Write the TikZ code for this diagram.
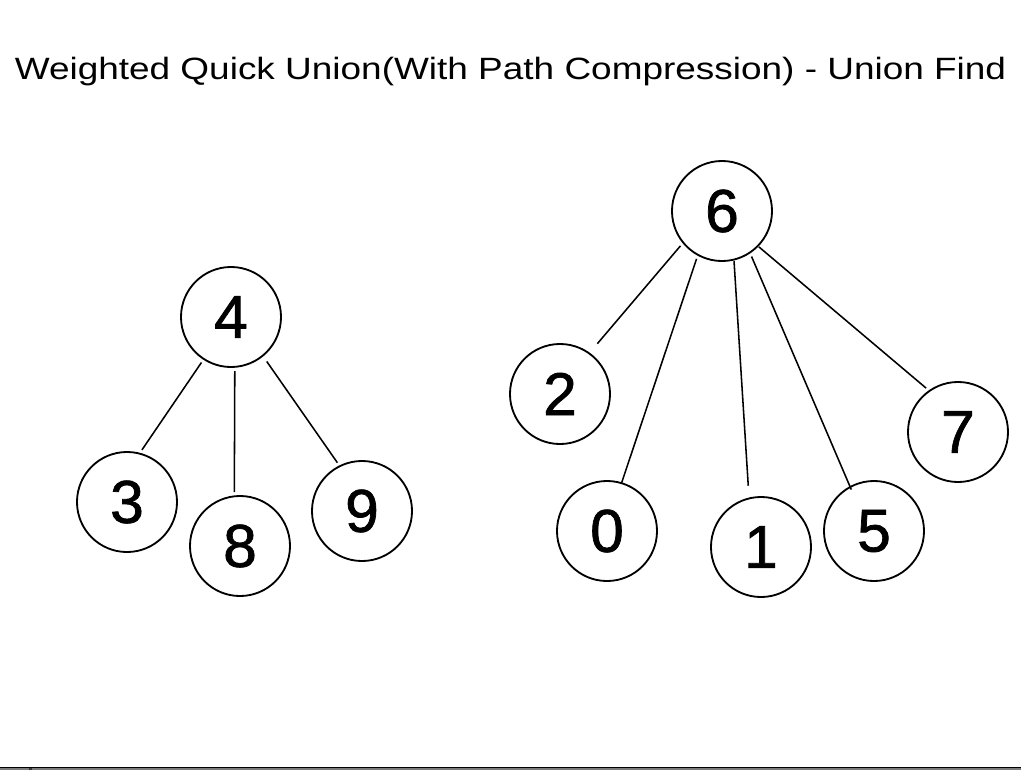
\documentclass[tikz,border=0pt]{standalone}
\usepackage{fontspec}
\setmainfont{Liberation Sans}
\newfontface\ufdigits[FakeBold=1.2]{Liberation Sans}
\usepackage{tikz}
\usetikzlibrary{positioning}
\definecolor{ufstrip}{HTML}{7C7C7C}
\definecolor{uftick}{HTML}{3A3A3A}

\begin{document}
\begin{tikzpicture}[x=0.025cm, y=-0.025cm,
  ufnode/.style={draw=black, circle, line width=1.3pt, minimum size=2.5cm, inner sep=0pt, outer sep=3pt, font=\ufdigits\fontsize{43}{43}\selectfont},
  uflink/.style={black, line width=1.1pt},
  uftitle/.style={font=\fontsize{21.9}{26}\selectfont, anchor=base, inner sep=0pt},
]
\useasboundingbox (0,0) rectangle (1021,770);
\node[uftitle] (title) at (510.5,79) {\scalebox{1.2}[1]{Weighted Quick Union(With Path Compression) - Union Find}};
% tree rooted at 4
\node[ufnode] (n4) at (231,317) {4};
\node[ufnode] (n3) at (127,502) {3};
\node[ufnode] (n8) at (240,546) {8};
\node[ufnode] (n9) at (362,511) {9};
\draw[uflink] (n4.237) -- (n3.74);
\draw[uflink] (n4.274) -- (n8.96);
\draw[uflink, shorten <=2pt] (n4.309) -- (n9.117);
% tree rooted at 6
\node[ufnode] (n6) at (722,211) {6};
\node[ufnode] (n2) at (560,394) {2};
\node[ufnode] (n0) at (607,531) {0};
\node[ufnode] (n1) at (761,547) {1};
\node[ufnode] (n5) at (874,531) {5};
\node[ufnode] (n7) at (958,432) {7};
\draw[uflink, shorten >=6pt] (n6.220) -- (n2.54);
\draw[uflink, shorten >=-3pt] (n6.242) -- (n0.73);
\draw[uflink, shorten <=-2pt, shorten >=6pt] (n6.283) -- (n1.103);
\draw[uflink, shorten >=-5pt] (n6.303) -- (n5.118);
\draw[uflink, shorten <=-2pt] (n6.316) -- (n7.126);
% strip at the bottom edge
\fill[ufstrip] (0,767.5) rectangle (1021,770);
\draw[line width=0.9pt] (0,767.3) -- (1021,767.3);
\fill[uftick] (29,768) rectangle (32,770);
\end{tikzpicture}
\end{document}
